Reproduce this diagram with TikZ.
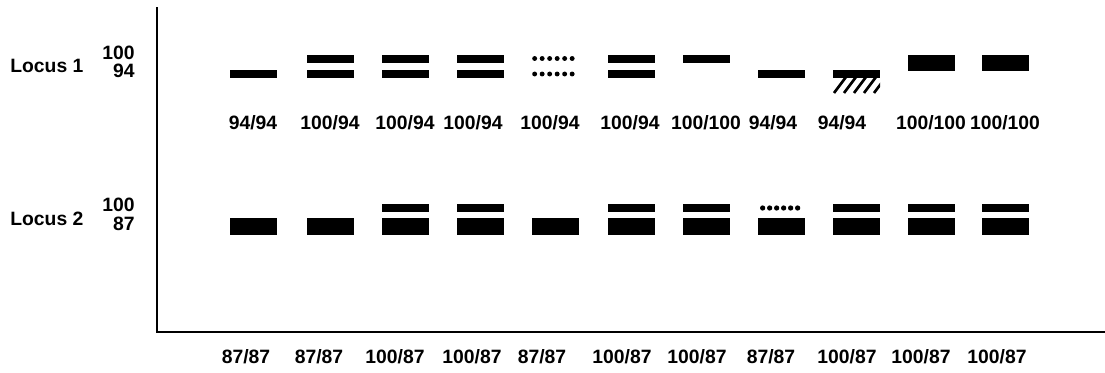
\documentclass[tikz,border=0pt]{standalone}
\usepackage{fontspec}
\setmainfont{Liberation Sans}
\usetikzlibrary{positioning}

\begin{document}
\begin{tikzpicture}[x=0.02cm, y=-0.02cm,
    lbl/.style={font=\bfseries\fontsize{11}{12}\selectfont, inner sep=0pt},
    thinband/.style={rectangle, fill=black, minimum width=0.94cm, minimum height=0.16cm, inner sep=0pt},
    thickband/.style={rectangle, fill=black, minimum width=0.94cm, minimum height=0.34cm, inner sep=0pt},
    dotrow/.style={rectangle, minimum width=0.94cm, minimum height=0.1cm, inner sep=0pt},
    axis/.style={line width=0.8pt}
]
\useasboundingbox (0,0) rectangle (1105,372);

% axes
\coordinate (top) at (157,7);
\coordinate (origin) at (157,332);
\coordinate (right) at (1105,332);
\draw[axis] (top) -- (origin) -- (right);

% locus labels
\node[lbl, anchor=west] (LocusOne) at (10,66) {Locus 1};
\node[lbl, anchor=east] (LOnehi) at (135,53) {100};
\node[lbl, anchor=east] (LOnelo) at (135,71) {94};
\node[lbl, anchor=west] (LocusTwo) at (10,219) {Locus 2};
\node[lbl, anchor=east] (LTwohi) at (135,205) {100};
\node[lbl, anchor=east] (LTwolo) at (135,224) {87};

% locus 1 bands
\foreach \i/\x in {1/253.5, 2/330, 3/405, 4/480, 6/631, 8/781.5, 9/856.5}
    \node[thinband] (Alo\i) at (\x,74) {};
\foreach \i/\x in {2/330, 3/405, 4/480, 6/631, 7/706.5}
    \node[thinband] (Ahi\i) at (\x,58.5) {};
\foreach \i/\x in {10/931.5, 11/1005.5}
    \node[thickband] (Ahi\i) at (\x,63) {};
\node[dotrow] (Ahi5) at (555,58.5) {};
\node[dotrow] (Alo5) at (555,74) {};
\foreach \k in {0,...,5} {
    \fill ([xshift=\k*0.15cm+0.07cm]Ahi5.west) circle (1.4pt);
    \fill ([xshift=\k*0.15cm+0.07cm]Alo5.west) circle (1.4pt);
}
% hatched smear under lane 9
\begin{scope}
    \clip (833,77) rectangle (880,93);
    \foreach \k in {0,...,4}
        \draw[line width=1.5pt] (834+\k*10,93) -- (846+\k*10,77);
\end{scope}

% locus 1 genotypes
\foreach \i/\x/\lab in {1/253/{94/94}, 2/330/{100/94}, 3/405/{100/94}, 4/473/{100/94}, 5/550/{100/94},
    6/630/{100/94}, 7/706/{100/100}, 8/773/{94/94}, 9/842/{94/94}, 10/931/{100/100}, 11/1005/{100/100}}
    \node[lbl] (GOne\i) at (\x,123) {\lab};

% locus 2 bands
\foreach \i/\x in {1/253.5, 2/330, 3/405, 4/480, 5/555, 6/631, 7/706.5, 8/781.5, 9/856.5, 10/931.5, 11/1005.5}
    \node[thickband] (Blo\i) at (\x,226.5) {};
\foreach \i/\x in {3/405, 4/480, 6/631, 7/706.5, 9/856.5, 10/931.5, 11/1005.5}
    \node[thinband] (Bhi\i) at (\x,208) {};
\node[dotrow] (Bhi8) at (781.5,208) {};
\foreach \k in {0,...,5}
    \fill ([xshift=\k*0.14cm+0.1cm]Bhi8.west) circle (1.5pt);

% locus 2 genotypes
\foreach \i/\x/\lab in {1/246/{87/87}, 2/319/{87/87}, 3/395/{100/87}, 4/472/{100/87}, 5/542/{87/87},
    6/622/{100/87}, 7/697/{100/87}, 8/771/{87/87}, 9/847/{100/87}, 10/921/{100/87}, 11/997/{100/87}}
    \node[lbl] (GTwo\i) at (\x,357) {\lab};
\end{tikzpicture}
\end{document}
